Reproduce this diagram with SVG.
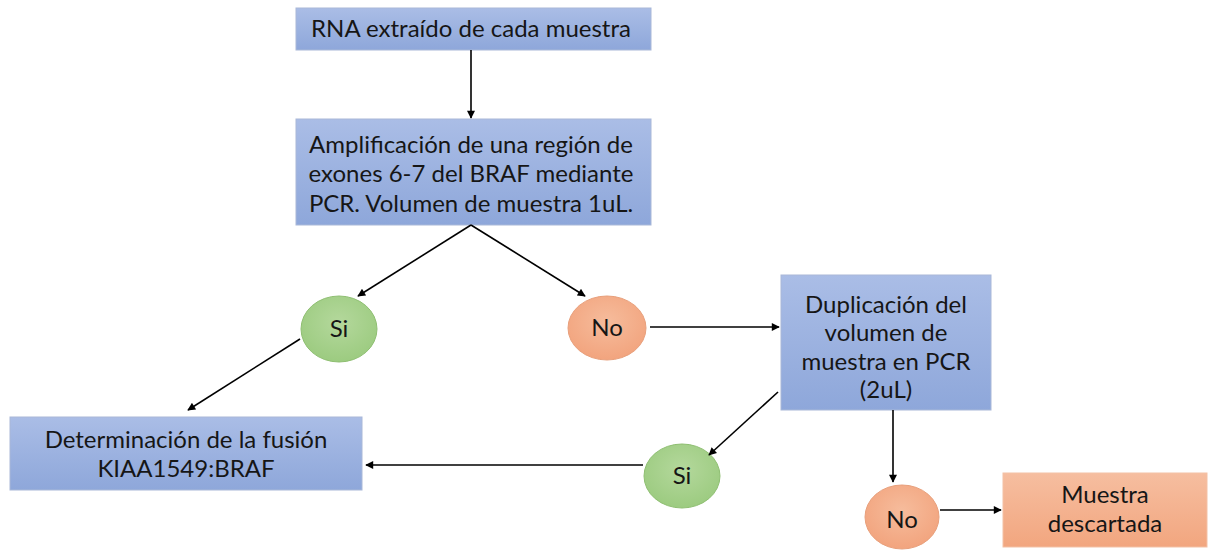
<svg xmlns="http://www.w3.org/2000/svg" width="1208" height="550" viewBox="0 0 1208 550">
<defs>
<linearGradient id="gb" x1="0" y1="0" x2="0" y2="1"><stop offset="0" stop-color="#aabde6"/><stop offset="1" stop-color="#8ea7da"/></linearGradient>
<linearGradient id="go" x1="0" y1="0" x2="0" y2="1"><stop offset="0" stop-color="#f6bea0"/><stop offset="1" stop-color="#f2a67f"/></linearGradient>
<radialGradient id="gg" cx="0.5" cy="0.4" r="0.6"><stop offset="0" stop-color="#b4d89c"/><stop offset="1" stop-color="#9ccb80"/></radialGradient>
<radialGradient id="gor" cx="0.5" cy="0.4" r="0.6"><stop offset="0" stop-color="#f6bc9c"/><stop offset="1" stop-color="#f2a47e"/></radialGradient>
<marker id="ah" viewBox="0 0 10 10" refX="9" refY="5" markerWidth="9" markerHeight="8" markerUnits="userSpaceOnUse" orient="auto"><path d="M0,0 L10,5 L0,10 z" fill="#000"/></marker>
</defs>
<style>
.box{fill:url(#gb);stroke:#a9b8d8;stroke-width:1}
.obox{fill:url(#go);stroke:#f3c1a6;stroke-width:1}
.gc{fill:url(#gg);stroke:#8fbf72;stroke-width:1}
.oc{fill:url(#gor);stroke:#e8a07c;stroke-width:1}
text{font-family:Lato,"Open Sans","Liberation Sans",sans-serif;fill:#161616;text-anchor:middle;font-size:24px}
.c line{stroke:#000;stroke-width:1.6;marker-end:url(#ah)}
</style>
<g id="n1"><rect class="box" x="296" y="8" width="355" height="42"/><text x="471" y="37">RNA extraído de cada muestra</text></g>
<g id="n2"><rect class="box" x="296" y="119" width="355" height="106"/><text x="471" y="153">Amplificación de una región de</text><text x="471" y="182">exones 6-7 del BRAF mediante</text><text x="471" y="212">PCR. Volumen de muestra 1uL.</text></g>
<g id="si1"><ellipse class="gc" cx="339" cy="329" rx="38" ry="33"/><text x="339" y="337">Si</text></g>
<g id="no1"><ellipse class="oc" cx="607" cy="328" rx="39" ry="32"/><text x="607" y="336">No</text></g>
<g id="n3"><rect class="box" x="781" y="275" width="210" height="135"/><text x="886" y="313">Duplicación del</text><text x="886" y="341">volumen de</text><text x="886" y="370">muestra en PCR</text><text x="886" y="398">(2uL)</text></g>
<g id="n4"><rect class="box" x="10" y="417" width="352" height="73"/><text x="186" y="448">Determinación de la fusión</text><text x="186" y="477">KIAA1549:BRAF</text></g>
<g id="si2"><ellipse class="gc" cx="682" cy="476" rx="38" ry="32"/><text x="682" y="484">Si</text></g>
<g id="no2"><ellipse class="oc" cx="902" cy="517" rx="37" ry="32"/><text x="902" y="528">No</text></g>
<g id="n5"><rect class="obox" x="1003" y="473" width="204" height="74"/><text x="1105" y="503">Muestra</text><text x="1105" y="532">descartada</text></g>
<g class="c" id="connectors">
<line x1="471" y1="50" x2="471" y2="118"/>
<line x1="471" y1="225" x2="358" y2="296"/>
<line x1="471" y1="225" x2="585" y2="296"/>
<line x1="650" y1="327" x2="779" y2="327"/>
<line x1="300" y1="339" x2="188" y2="410"/>
<line x1="778" y1="392" x2="709" y2="455"/>
<line x1="643" y1="465" x2="366" y2="465"/>
<line x1="893" y1="410" x2="893" y2="482"/>
<line x1="940" y1="510" x2="1001" y2="510"/>
</g>
</svg>
